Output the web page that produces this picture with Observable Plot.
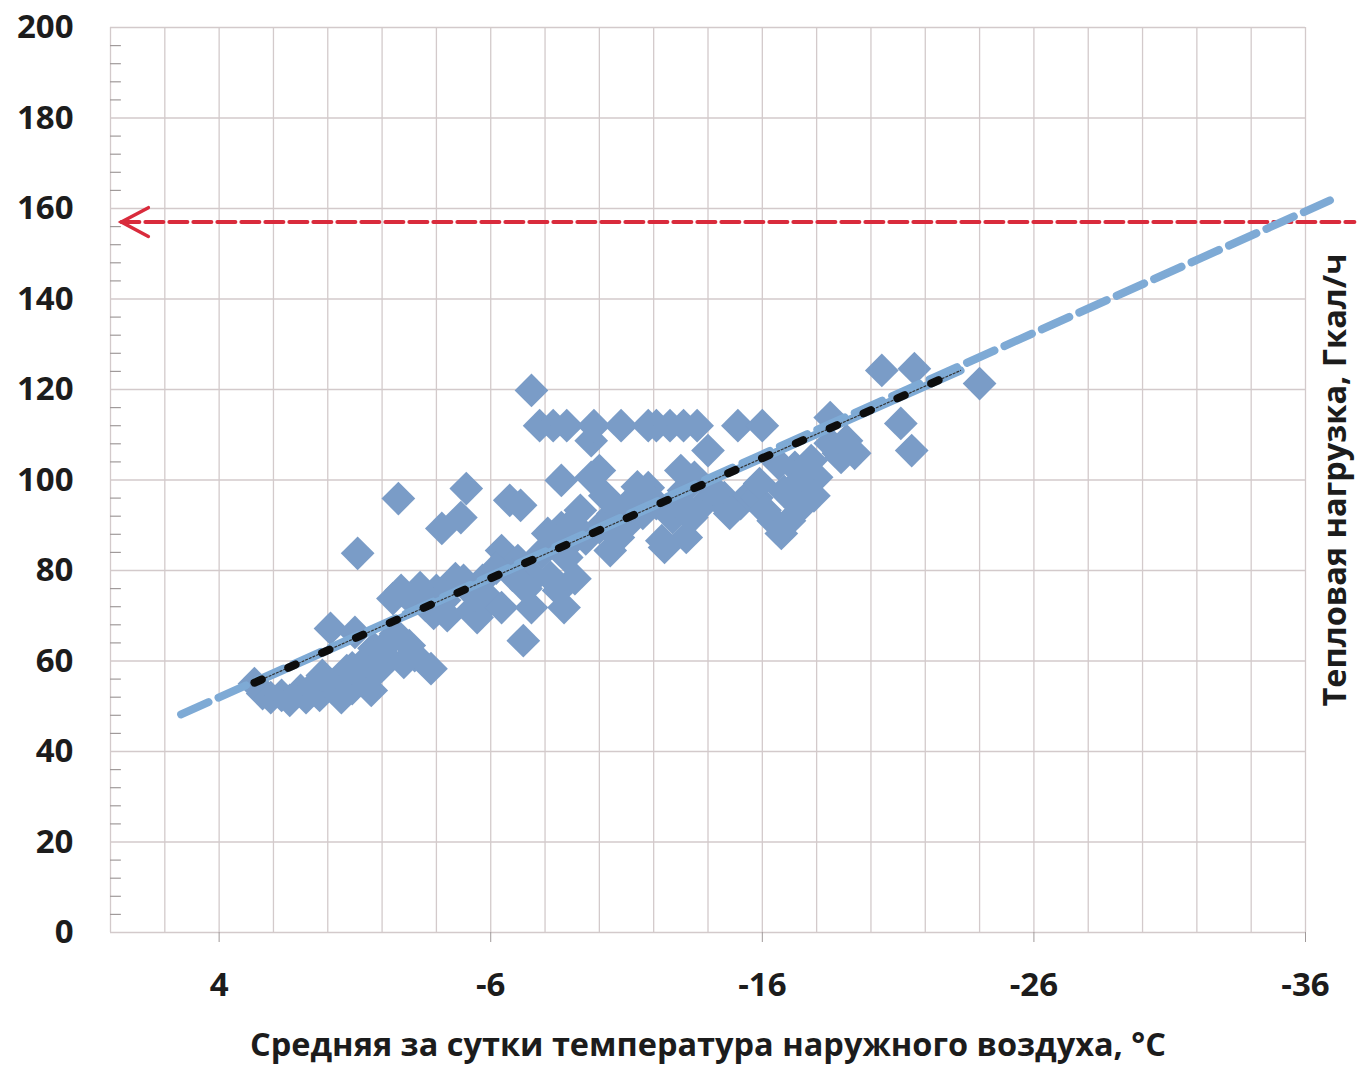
<!DOCTYPE html>
<html><head><meta charset="utf-8">
<script src="https://cdn.jsdelivr.net/npm/d3@7"></script>
<script src="https://cdn.jsdelivr.net/npm/@observablehq/plot@0.6"></script>
<style>body{margin:0;background:#fff}</style></head>
<body><div id="chart"></div>
<script>
// Daily mean outdoor temperature, °C
const temp = [
  2.7,2.4,2.1,1.7,1.4,1.0,0.8,0.5,0.3,-0.1,
  -0.3,-0.5,-0.7,-0.9,-1.0,-1.1,-1.2,-1.4,-1.6,-1.7,
  -1.9,-2.1,-2.3,-2.4,-2.6,-2.7,-2.8,-3.0,-3.1,-3.2,
  -3.4,-3.6,-3.8,-4.0,-4.2,-4.3,-4.5,-4.7,-4.9,-5.0,
  -5.1,-5.3,-5.5,-5.7,-6.0,-6.4,-6.4,-6.7,-7.0,-7.1,
  -7.2,-7.5,-7.5,-7.6,-7.8,-8.1,-8.2,-8.3,-8.5,-8.6,
  -8.6,-8.7,-8.8,-8.8,-8.9,-9.1,-9.3,-9.7,-9.7,-9.8,
  -10.0,-10.0,-10.4,-10.5,-10.7,-10.8,-11.2,-11.6,-11.8,-11.8,
  -12.1,-12.1,-12.3,-12.4,-12.6,-12.7,-13.0,-13.1,-13.1,-13.2,
  -13.4,-13.5,-13.6,-13.7,-14.0,-14.4,-14.6,-14.8,-15.1,-15.2,
  -15.5,-15.8,-15.9,-16.0,-16.1,-16.4,-16.6,-16.7,-17.0,-17.2,
  -17.2,-17.4,-17.4,-17.7,-17.8,-18.0,-18.5,-18.5,-18.8,-18.9,
  -19.1,-19.4,-20.4,-21.1,-21.5,-21.6,-24.0,
  -3.9,-4.4,-5.4,-6.2,-6.8,-7.3,-7.9,-8.4,-9.0,-9.5,
  -10.2,-11.0,-11.4,-12.9,-14.2,-16.8,-17.9,-0.9,0.2,-2.5
];
// Heat load, Gcal/h
const load = [
  55.0,52.8,51.9,52.4,51.3,53.5,51.9,54.6,52.4,67.2,
  53.5,51.9,57.9,53.9,66.3,83.8,55.7,60.1,53.5,62.8,
  58.3,61.2,64.5,73.8,95.9,75.6,59.7,63.4,73.4,61.2,
  76.2,72.3,58.3,75.6,89.3,73.4,76.2,78.2,91.7,77.8,
  98.1,71.2,69.6,77.8,73.4,84.4,71.8,95.5,82.2,94.4,
  64.5,119.8,71.8,78.5,112.0,88.2,78.5,112.0,75.6,89.5,
  99.9,71.8,112.0,82.9,86.0,78.2,93.3,100.6,108.7,112.0,
  89.5,102.1,84.4,92.6,87.3,112.0,95.5,92.6,98.3,112.0,
  94.8,112.0,86.6,85.1,112.0,91.7,102.1,112.0,97.7,87.3,
  91.7,100.6,112.0,93.9,106.5,95.5,96.1,92.6,112.0,94.8,
  96.6,96.1,99.2,112.0,93.3,91.0,103.6,88.2,91.0,102.8,
  96.1,99.9,93.9,101.4,104.3,100.6,113.8,108.1,105.9,105.0,
  108.7,105.9,124.2,112.5,106.5,124.6,121.3,
  70.5,70.0,74.5,80.5,79.0,76.0,84.0,86.5,90.5,87.0,
  96.5,90.0,98.5,95.5,98.0,97.5,96.5,58.5,56.8,66.0
];

// Extended trend line (light blue dashed)
const trendX = [5.4, -36.9];
const trendY = [48.2, 161.8];
// Fitted trend over the data range (black dotted)
const fitX = [2.7, -23.3];
const fitY = [55.2, 124.2];
// Design load level (red dashed, arrow pointing to the axis)
const redX = [7.6, -37.8];
const redY = [157.0, 157.0];

const xTicks = [4, -6, -16, -26, -36];
const yTicks = [0, 20, 40, 60, 80, 100, 120, 140, 160, 180, 200];
const gridX = [8, 6, 4, 2, 0, -2, -4, -6, -8, -10, -12, -14, -16, -18, -20, -22, -24, -26, -28, -30, -32, -34, -36];
const gridY = yTicks;
const minorY = d3.range(4, 200, 4).filter(v => v % 20 !== 0);

const xLabel = "Средняя за сутки температура наружного воздуха, °С";
const yLabel = "Тепловая нагрузка, Гкал/ч";

const gridColor = "#d3cacb";
const diamondColor = "#7a9cc7";
const lineBlue = "#7eaad5";
const red = "#d92b3c";

const pts = temp.map((t, i) => ({t, q: load[i]}));
const seg = (xs, ys) => xs.map((x, i) => ({x, y: ys[i]}));

const chevron = {
  draw(ctx, size) {
    const r = Math.sqrt(size / Math.PI);
    ctx.moveTo(r * 0.9, -r * 0.48);
    ctx.lineTo(0, 0);
    ctx.lineTo(r * 0.9, r * 0.48);
  }
};

const chart = Plot.plot({
  width: 1359,
  height: 1067,
  marginLeft: 110,
  marginRight: 54,
  marginTop: 27,
  marginBottom: 135,
  x: {domain: [8, -36]},
  y: {domain: [0, 200]},
  style: {
    fontFamily: "'Open Sans', 'DejaVu Sans', sans-serif",
    fontSize: "33px",
    fontWeight: "bold",
    color: "#1c1c1c",
    background: "#fff"
  },
  marks: [
    Plot.ruleY(gridY, {stroke: gridColor, strokeWidth: 1.3}),
    Plot.ruleX(gridX, {stroke: gridColor, strokeWidth: 1.3}),
    Plot.ruleY(minorY, {x1: 8, x2: 7.6, stroke: "#a09a9a", strokeWidth: 1.2}),
    Plot.axisY({ticks: yTicks, tickSize: 0, tickPadding: 37, label: null, tickFormat: d => `${d}`}),
    Plot.axisX({ticks: xTicks, tickSize: 10, tickPadding: 30, label: null, stroke: "#a09a9a", tickFormat: d => `${d}`}),
    Plot.line(seg(redX, redY), {x: "x", y: "y", stroke: red, strokeWidth: 4, strokeDasharray: "18,6"}),
    Plot.dot(seg([redX[0]], [redY[0]]), {x: "x", y: "y", symbol: chevron, r: 30, fill: "none", stroke: red, strokeWidth: 3.5, strokeLinecap: "round"}),
    Plot.dot(pts, {x: "t", y: "q", symbol: "diamond2", r: 15.2, fill: diamondColor, stroke: "none"}),
    Plot.line(seg(trendX, trendY), {x: "x", y: "y", stroke: lineBlue, strokeWidth: 8, strokeDasharray: "30,11"}),
    Plot.line(seg(fitX, fitY), {x: "x", y: "y", stroke: lineBlue, strokeWidth: 8}),
    Plot.line(seg(fitX, fitY), {x: "x", y: "y", stroke: "#333", strokeWidth: 1.2, strokeDasharray: "2,2"}),
    Plot.line(seg(fitX, fitY), {x: "x", y: "y", stroke: "#0d0d0d", strokeWidth: 8, strokeDasharray: "8,29"}),
    Plot.text([xLabel], {frameAnchor: "bottom", dy: 113, lineAnchor: "middle", text: d => d, fontSize: 32.5, fontWeight: "bold"}),
    Plot.text([yLabel], {frameAnchor: "right", dx: 30, rotate: -90, textAnchor: "middle", lineAnchor: "middle", text: d => d, fontSize: 32.5, fontWeight: "bold"})
  ]
});
document.getElementById("chart").append(chart);
</script>
</body></html>
